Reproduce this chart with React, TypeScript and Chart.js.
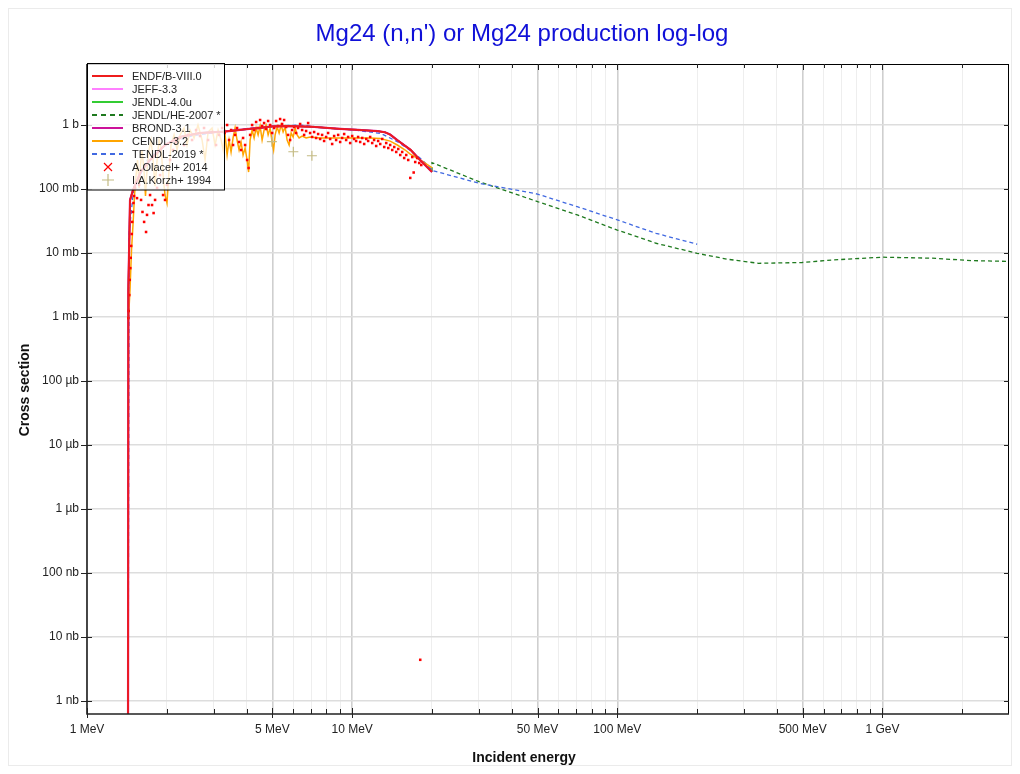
import React, { useEffect, useRef } from 'react';
import { Chart, registerables } from 'chart.js';

Chart.register(...registerables);

const FONT = "'Liberation Sans', Arial, Helvetica, sans-serif";

const titleText = "Mg24 (n,n') or Mg24 production log-log";
const xAxisTitle = 'Incident energy';
const yAxisTitle = 'Cross section';

// x axis (MeV)
const xMin = 1;
const xMax = 3000;
const xTickValues = [1, 2, 3, 4, 5, 6, 7, 8, 9, 10, 20, 30, 40, 50, 60, 70, 80, 90, 100, 200, 300, 400, 500, 600, 700, 800, 900, 1000, 2000];
const xMajorValues = [1, 5, 10, 50, 100, 500, 1000];
const xMajorLabels = ['1 MeV', '5 MeV', '10 MeV', '50 MeV', '100 MeV', '500 MeV', '1 GeV'];

// y axis (barn)
const yMin = 6.26e-10;
const yMax = 8.98;
const yTickValues = [1e-9, 1e-8, 1e-7, 1e-6, 1e-5, 1e-4, 1e-3, 1e-2, 1e-1, 1];
const yTickLabels = ['1 nb', '10 nb', '100 nb', '1 µb', '10 µb', '100 µb', '1 mb', '10 mb', '100 mb', '1 b'];

// [energy MeV, cross section b]
const endfPoints: [number, number][] = [
  [1.4265, 1e-12], [1.432, 0.0026], [1.453, 0.067], [1.491, 0.096], [1.6, 0.19], [1.729, 0.284],
  [1.969, 0.487], [2.244, 0.65], [2.669, 0.75], [3.26, 0.79], [3.5, 0.81], [4.0, 0.86], [4.5, 0.9],
  [5.0, 0.95], [5.7, 0.965], [7.0, 0.94], [9.0, 0.87], [10.5, 0.84], [12.5, 0.8], [13.3, 0.77],
  [13.9, 0.71], [14.8, 0.58], [16.6, 0.41], [18.1, 0.28], [20.0, 0.185],
];
const jeffPoints: [number, number][] = endfPoints;
const jendl4Points: [number, number][] = endfPoints;
const brondPoints: [number, number][] = endfPoints;

const jendlHePoints: [number, number][] = [
  [20.0, 0.19], [20.0, 0.258], [30.1, 0.13], [50, 0.0635], [70.6, 0.0394], [100, 0.0228],
  [140, 0.0142], [200, 0.0099], [260, 0.008], [341, 0.0069], [497, 0.0071], [653, 0.0078],
  [1000, 0.0086], [1537, 0.0083], [2170, 0.0076], [3000, 0.0074],
];

const tendlPoints: [number, number][] = [
  [1.4265, 1e-12], [1.44, 0.02], [1.5, 0.1], [1.7, 0.3], [2.0, 0.5], [2.5, 0.68], [3.3, 0.8],
  [4.0, 0.88], [5.0, 0.95], [6.3, 1.0], [8.3, 0.89], [10.0, 0.84], [12.8, 0.74], [14.8, 0.55],
  [16.6, 0.4], [18.1, 0.3], [20.2, 0.193], [30.1, 0.123], [50, 0.0834], [70.6, 0.0529],
  [100, 0.0329], [140, 0.0203], [200, 0.0137],
];

const cendlPoints: [number, number][] = [
  [1.434, 0.00097], [1.453, 0.0027], [1.472, 0.0112], [1.491, 0.0275], [1.511, 0.0805], [1.531, 0.165],
  [1.551, 0.284], [1.572, 0.104], [1.592, 0.237], [1.612, 0.407], [1.642, 0.184], [1.662, 0.078],
  [1.684, 0.198], [1.713, 0.407], [1.744, 0.583], [1.775, 0.284], [1.806, 0.111], [1.838, 0.284],
  [1.87, 0.583], [1.902, 0.437], [1.936, 0.165], [1.969, 0.0805], [2.003, 0.0605], [2.039, 0.198],
  [2.074, 0.487], [2.13, 0.7], [2.186, 0.407], [2.244, 0.7], [2.323, 0.898], [2.384, 0.487],
  [2.447, 0.835], [2.534, 0.627], [2.622, 1.0], [2.716, 0.583], [2.788, 0.284], [2.862, 0.777],
  [2.962, 0.898], [3.041, 0.487], [3.122, 0.835], [3.205, 0.583], [3.262, 0.407], [3.317, 0.7],
  [3.376, 0.34], [3.434, 0.583], [3.494, 0.379], [3.555, 0.627], [3.618, 0.898], [3.681, 0.583],
  [3.746, 0.407], [3.811, 0.543], [3.878, 0.34], [3.947, 0.437], [4.016, 0.284], [4.069, 0.184],
  [4.122, 0.583], [4.195, 0.835], [4.268, 0.627], [4.343, 0.898], [4.419, 0.7], [4.496, 0.965],
  [4.575, 0.583], [4.655, 0.835], [4.737, 1.0], [4.82, 0.7], [4.904, 0.898], [4.99, 0.543],
  [5.055, 0.407], [5.122, 0.7], [5.211, 0.93], [5.303, 0.75], [5.395, 1.0], [5.49, 0.777],
  [5.587, 0.93], [5.684, 0.583], [5.784, 0.487], [5.886, 0.75], [5.989, 0.65], [6.094, 0.898],
  [6.2, 0.7], [6.309, 0.627], [6.476, 0.673], [6.704, 0.627], [6.942, 0.65], [7.571, 0.627],
  [8.26, 0.627], [9.01, 0.627], [10.26, 0.627], [11.69, 0.627], [12.76, 0.615], [13.91, 0.56],
  [14.8, 0.487], [15.85, 0.407], [16.56, 0.352], [18.06, 0.284], [20.04, 0.213],
];

const olacelPoints: [number, number][] = [
  [1.431, 0.00096], [1.436, 0.00124], [1.444, 0.0022], [1.449, 0.0038], [1.457, 0.0058], [1.462, 0.0084],
  [1.468, 0.0129], [1.475, 0.0198], [1.481, 0.0306], [1.489, 0.0438], [1.497, 0.0605], [1.505, 0.0778],
  [1.518, 0.104], [1.544, 0.072], [1.572, 0.116], [1.599, 0.0675], [1.619, 0.0438], [1.642, 0.0306],
  [1.67, 0.0213], [1.684, 0.0394], [1.706, 0.0562], [1.729, 0.0805], [1.759, 0.0562], [1.783, 0.0421],
  [1.806, 0.0675], [1.838, 0.104], [1.886, 0.165], [1.936, 0.0805], [1.969, 0.0675], [2.003, 0.116],
  [2.057, 0.284], [2.111, 0.407], [2.167, 0.543], [2.244, 0.627], [2.323, 0.487], [2.405, 0.7],
  [2.49, 0.583], [2.578, 0.835], [2.669, 0.673], [2.763, 0.898], [2.862, 0.583], [2.962, 0.777],
  [3.067, 0.487], [3.148, 0.7], [3.233, 0.898], [3.303, 0.75], [3.376, 1.0], [3.434, 0.583],
  [3.494, 0.835], [3.555, 0.487], [3.618, 0.7], [3.681, 0.898], [3.746, 0.543], [3.811, 0.407],
  [3.878, 0.627], [3.947, 0.487], [4.016, 0.284], [4.069, 0.213], [4.122, 0.7], [4.195, 1.0],
  [4.268, 0.835], [4.343, 1.114], [4.419, 0.898], [4.496, 1.197], [4.575, 0.965], [4.655, 1.074],
  [4.737, 0.866], [4.82, 1.155], [4.904, 1.0], [4.99, 0.75], [5.078, 0.898], [5.166, 1.155],
  [5.257, 0.965], [5.349, 1.24], [5.442, 1.037], [5.538, 1.197], [5.635, 0.93], [5.734, 0.7],
  [5.834, 0.583], [5.936, 0.835], [6.04, 0.93], [6.145, 0.75], [6.252, 0.898], [6.364, 1.037],
  [6.476, 0.835], [6.59, 0.7], [6.704, 0.806], [6.823, 1.074], [6.942, 0.75], [7.064, 0.65],
  [7.186, 0.777], [7.311, 0.627], [7.441, 0.723], [7.571, 0.605], [7.703, 0.7], [7.838, 0.563],
  [7.975, 0.65], [8.114, 0.75], [8.26, 0.605], [8.405, 0.505], [8.551, 0.673], [8.7, 0.583],
  [8.855, 0.7], [9.01, 0.543], [9.167, 0.627], [9.328, 0.723], [9.49, 0.583], [9.655, 0.65],
  [9.828, 0.523], [10.0, 0.673], [10.17, 0.605], [10.35, 0.563], [10.53, 0.65], [10.72, 0.543],
  [10.91, 0.627], [11.1, 0.505], [11.3, 0.605], [11.49, 0.563], [11.69, 0.65], [11.9, 0.523],
  [12.1, 0.583], [12.32, 0.47], [12.53, 0.563], [12.76, 0.505], [12.98, 0.605], [13.21, 0.453],
  [13.44, 0.523], [13.68, 0.437], [13.91, 0.487], [14.16, 0.407], [14.41, 0.453], [14.66, 0.379],
  [14.92, 0.422], [15.18, 0.34], [15.44, 0.379], [15.71, 0.305], [15.99, 0.34], [16.27, 0.284],
  [16.56, 0.149], [16.85, 0.316], [17.06, 0.181], [17.29, 0.264], [17.59, 0.305], [17.9, 0.255],
  [18.06, 4.4e-9], [18.22, 0.237],
];

const korzhPoints: [number, number][] = [
  [4.98, 0.548], [6.0, 0.382], [7.05, 0.331],
];

const toXY = (pts: [number, number][]) => pts.map(([x, y]) => ({ x, y }));

type LegendKind = 'line' | 'cross' | 'plus';
const legendKinds: LegendKind[] = ['line', 'line', 'line', 'line', 'line', 'line', 'line', 'cross', 'plus'];

export default function App() {
  const ref = useRef<HTMLCanvasElement>(null);

  useEffect(() => {
    const canvas = ref.current;
    if (!canvas) return;

    const lineDs = (label: string, pts: [number, number][], color: string, width: number, order: number, dash: number[] = []) => ({
      label,
      data: toXY(pts),
      borderColor: color,
      backgroundColor: color,
      borderWidth: width,
      borderDash: dash,
      pointRadius: 0,
      tension: 0,
      fill: false,
      order,
    });

    const datasets: any[] = [
      lineDs('ENDF/B-VIII.0', endfPoints, '#ee1c1c', 1.8, 0),
      lineDs('JEFF-3.3', jeffPoints, '#ff80ff', 1.5, 8),
      lineDs('JENDL-4.0u', jendl4Points, '#33cc33', 1.5, 7),
      lineDs('JENDL/HE-2007 *', jendlHePoints, '#1f7a1f', 1.3, 6, [4, 3]),
      lineDs('BROND-3.1', brondPoints, '#cc1199', 2.2, 3),
      lineDs('CENDL-3.2', cendlPoints, '#ffa500', 1.5, 4),
      lineDs('TENDL-2019 *', tendlPoints, '#4169e1', 1.3, 5, [4, 3]),
      {
        label: 'A.Olacel+ 2014',
        data: toXY(olacelPoints),
        showLine: false,
        pointStyle: 'rect',
        pointRadius: 1.8,
        pointBackgroundColor: '#ff0000',
        pointBorderColor: '#ff0000',
        pointBorderWidth: 0,
        borderColor: '#ff0000',
        backgroundColor: '#ff0000',
        order: 1,
      },
      {
        label: 'I.A.Korzh+ 1994',
        data: toXY(korzhPoints),
        showLine: false,
        pointStyle: 'cross',
        pointRadius: 5,
        pointBorderColor: '#c4bb84',
        pointBorderWidth: 1.2,
        borderColor: '#c4bb84',
        backgroundColor: '#c4bb84',
        order: 2,
      },
    ];

    const decorPlugin = {
      id: 'decor',
      beforeDraw(chart: any) {
        const { ctx, width, height } = chart;
        ctx.save();
        ctx.strokeStyle = '#ebebeb';
        ctx.lineWidth = 1;
        ctx.strokeRect(0.5, 0.5, width - 1, height - 1);
        ctx.restore();
      },
      afterDatasetsDraw(chart: any) {
        const { ctx, chartArea: a, scales } = chart;
        const xs = scales.x;
        const ys = scales.y;
        ctx.save();
        // frame
        ctx.strokeStyle = '#000';
        ctx.lineWidth = 1;
        ctx.beginPath();
        ctx.moveTo(a.left, a.top + 0.5);
        ctx.lineTo(a.right, a.top + 0.5);
        ctx.moveTo(a.right - 0.5, a.top);
        ctx.lineTo(a.right - 0.5, a.bottom);
        ctx.stroke();
        ctx.strokeStyle = '#222';
        ctx.lineWidth = 1.6;
        ctx.beginPath();
        ctx.moveTo(a.left, a.top);
        ctx.lineTo(a.left, a.bottom);
        ctx.lineTo(a.right, a.bottom);
        ctx.stroke();

        // tick marks
        ctx.lineWidth = 1;
        ctx.strokeStyle = '#222';
        ctx.beginPath();
        xTickValues.forEach((v) => {
          const px = Math.round(xs.getPixelForValue(v)) + 0.5;
          const major = xMajorValues.includes(v);
          ctx.moveTo(px, a.bottom + (major ? 4 : 0));
          ctx.lineTo(px, a.bottom - (major ? 6 : 5));
          ctx.moveTo(px, a.top);
          ctx.lineTo(px, a.top + (major ? 6 : 4));
        });
        yTickValues.forEach((v) => {
          const py = Math.round(ys.getPixelForValue(v)) + 0.5;
          ctx.moveTo(a.left - 6, py);
          ctx.lineTo(a.left + 5, py);
          ctx.moveTo(a.right, py);
          ctx.lineTo(a.right - 5, py);
        });
        ctx.stroke();

        // legend
        const lx = a.left;
        const ly = a.top;
        const lw = 137;
        const lh = 126;
        ctx.fillStyle = 'rgba(255,255,255,0.8)';
        ctx.fillRect(lx, ly, lw, lh);
        ctx.strokeStyle = '#000';
        ctx.lineWidth = 1;
        ctx.strokeRect(lx + 0.5, ly - 0.5, lw, lh + 0.5);
        ctx.font = `11px ${FONT}`;
        ctx.textBaseline = 'middle';
        ctx.textAlign = 'left';
        chart.data.datasets.forEach((ds: any, i: number) => {
          const cy = ly + 12 + i * 13;
          const kind = legendKinds[i];
          const color = ds.borderColor;
          ctx.save();
          if (kind === 'line') {
            ctx.strokeStyle = color;
            ctx.lineWidth = 2;
            ctx.setLineDash(ds.borderDash && ds.borderDash.length ? [5, 4] : []);
            ctx.beginPath();
            ctx.moveTo(lx + 5, cy);
            ctx.lineTo(lx + 36, cy);
            ctx.stroke();
          } else if (kind === 'cross') {
            ctx.strokeStyle = color;
            ctx.lineWidth = 1.2;
            ctx.beginPath();
            ctx.moveTo(lx + 17, cy - 4);
            ctx.lineTo(lx + 25, cy + 4);
            ctx.moveTo(lx + 25, cy - 4);
            ctx.lineTo(lx + 17, cy + 4);
            ctx.stroke();
          } else {
            ctx.strokeStyle = color;
            ctx.lineWidth = 1.2;
            ctx.beginPath();
            ctx.moveTo(lx + 15, cy);
            ctx.lineTo(lx + 27, cy);
            ctx.moveTo(lx + 21, cy - 6);
            ctx.lineTo(lx + 21, cy + 6);
            ctx.stroke();
          }
          ctx.restore();
          ctx.fillStyle = '#222';
          ctx.fillText(ds.label, lx + 45, cy + 0.5);
        });
        ctx.restore();
      },
      afterDraw(chart: any) {
        const { ctx } = chart;
        ctx.save();
        ctx.fillStyle = '#1010d8';
        ctx.font = `24px ${FONT}`;
        ctx.textAlign = 'center';
        ctx.textBaseline = 'middle';
        ctx.fillText(titleText, 514, 26);
        ctx.fillStyle = '#111';
        ctx.font = `bold 14px ${FONT}`;
        ctx.fillText(xAxisTitle, 516, 750);
        ctx.translate(17, 382);
        ctx.rotate(-Math.PI / 2);
        ctx.fillText(yAxisTitle, 0, 0);
        ctx.restore();
      },
    };

    const chart = new Chart(canvas, {
      type: 'line',
      data: { datasets },
      options: {
        responsive: false,
        devicePixelRatio: 1,
        animation: false,
        events: [],
        layout: { autoPadding: false, padding: { top: 56, right: 3, left: 0, bottom: 0 } },
        plugins: {
          legend: { display: false },
          tooltip: { enabled: false },
          title: { display: false },
        },
        scales: {
          x: {
            type: 'logarithmic',
            position: 'bottom',
            min: xMin,
            max: xMax,
            afterBuildTicks: (s: any) => {
              s.ticks = xTickValues.map((v) => ({ value: v }));
            },
            afterFit: (s: any) => {
              s.height = 52;
            },
            border: { display: false },
            grid: {
              drawTicks: false,
              color: (c: any) => (c.tick && xMajorValues.includes(c.tick.value) ? '#cfcfcf' : '#eeeeee'),
              lineWidth: (c: any) => (c.tick && xMajorValues.includes(c.tick.value) ? 1.6 : 1),
            },
            ticks: {
              autoSkip: false,
              maxRotation: 0,
              minRotation: 0,
              padding: 8,
              color: '#222',
              font: { family: FONT, size: 12 },
              callback: (v: any) => {
                const i = xMajorValues.indexOf(Number(v));
                return i >= 0 ? xMajorLabels[i] : '';
              },
            },
          },
          y: {
            type: 'logarithmic',
            position: 'left',
            min: yMin,
            max: yMax,
            afterBuildTicks: (s: any) => {
              s.ticks = yTickValues.map((v) => ({ value: v }));
            },
            afterFit: (s: any) => {
              s.width = 79;
            },
            border: { display: false },
            grid: {
              drawTicks: false,
              color: '#dddddd',
              lineWidth: 1.6,
            },
            ticks: {
              autoSkip: false,
              padding: 8,
              color: '#222',
              font: { family: FONT, size: 12 },
              callback: (v: any) => {
                const i = yTickValues.indexOf(Number(v));
                return i >= 0 ? yTickLabels[i] : '';
              },
            },
          },
        },
      } as any,
      plugins: [decorPlugin],
    });

    return () => chart.destroy();
  }, []);

  return (
    <div style={{ width: 1004, height: 758 }}>
      <canvas ref={ref} width={1004} height={758} style={{ display: 'block' }} />
    </div>
  );
}
